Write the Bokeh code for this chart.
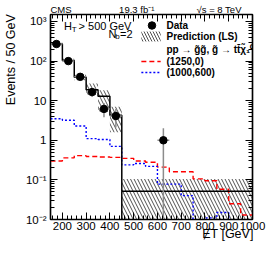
import math
from bokeh.plotting import figure
from bokeh.models import (Range1d, LinearAxis, LogAxis, FixedTicker,
                          CustomJSTickFormatter, Label)
from bokeh.embed import file_html
from bokeh.resources import INLINE

# ---------------- data ----------------
bin_edges = [150, 200, 250, 300, 350, 400, 450, 500, 550, 600, 650, 700,
             750, 800, 850, 900, 950, 1000]
pred_edges = [150, 200, 250, 300, 350, 400, 450, 1000]
pred_vals = [270, 104, 39, 19, 13, 4.3, 0.052]
pred_lo = [245, 93, 33, 14, 5.2, 1.6, 0.001]
pred_hi = [295, 115, 45, 27, 18.4, 7.0, 0.106]
sig_1250_0 = [0.30, 0.36, 0.41, 0.39, 0.38, 0.37, 0.35, 0.30, 0.28, 0.21,
              0.16, 0.16, 0.106, 0.095, 0.058, 0.025, 0.013]
sig_1000_600 = [3.5, 3.2, 2.3, 1.1, 1.05, 0.7, 0.24, 0.26, 0.22, 0.078,
                0.078, 0.04, 0.009, 0.011, 0.015, 0.001, 0.001]
data_x = [175, 225, 275, 325, 375, 425, 625]
data_y = [270, 100, 40, 16.5, 6.2, 4.1, 1.0]
data_lo = [254, 90, 33.5, 12.5, 3.8, 2.1, 0.001]
data_hi = [287, 110, 46.5, 20.7, 8.8, 6.2, 2.0]
BIN_W = 50
x_ticks = [200, 300, 400, 500, 600, 700, 800, 900, 1000]
y_ticks = [0.01, 0.1, 1, 10, 100, 1000]
y_labels = ["10\u207b\u00b2", "10\u207b\u00b9", "1", "10", "10\u00b2", "10\u00b3"]

X0, X1 = 150, 1000
Y0, Y1 = 0.01, 1500

# ---------------- layout (canvas pixels) ----------------
W, H = 266, 253
FL, FR, FT, FB = 43, 252, 14, 219
FONT = "Liberation Sans"
NB = "\u00a0"


def dx(px):
    return X0 + (px - FL) / (FR - FL) * (X1 - X0)


def dy(py):
    l0, l1 = math.log10(Y0), math.log10(Y1)
    return 10 ** (l0 + (FB - py) / (FB - FT) * (l1 - l0))


p = figure(width=W, height=H, x_range=Range1d(X0, X1), y_range=Range1d(Y0, Y1),
           y_axis_type="log", output_backend="svg", toolbar_location=None,
           min_border_left=FL, min_border_right=W - FR, min_border_top=FT,
           min_border_bottom=H - FB)
p.grid.visible = False
p.outline_line_color = "black"
p.outline_line_width = 1.5
p.background_fill_color = "white"
p.border_fill_color = "white"

# header as the plot title
p.title.text = "CMS" + NB * 18 + "19.3 fb\u207b\u00b9" + NB * 16 + "\u221as = 8 TeV"
p.title.align = "left"
p.title.standoff = 0
p.title.offset = 0
p.title.text_font = FONT
p.title.text_font_size = "9.5px"
p.title.text_font_style = "normal"
p.title.text_color = "black"

x_minor = [v for v in range(160, 1000, 20) if v % 100 != 0]
y_minor = [k * 10 ** e for e in range(-2, 4) for k in range(2, 10)]


def style_axis(ax):
    ax.major_tick_in = 7
    ax.major_tick_out = 0
    ax.minor_tick_in = 4
    ax.minor_tick_out = 0
    ax.axis_line_color = "black"
    ax.axis_line_width = 1.2
    ax.major_tick_line_width = 1
    ax.minor_tick_line_width = 1
    ax.major_label_text_font = FONT
    ax.major_label_text_color = "black"
    ax.major_label_text_font_size = "11.5px"
    ax.axis_label_text_font = FONT
    ax.axis_label_text_font_style = "normal"
    ax.axis_label_text_color = "black"
    ax.axis_label_text_font_size = "12.5px"


xa = p.xaxis[0]
xa.ticker = FixedTicker(ticks=x_ticks, minor_ticks=x_minor)
style_axis(xa)
xa.major_label_standoff = 2
xa.axis_label_standoff = -6
# centred label, padded in front so that the visible text ends at the right edge
xa.axis_label = NB * 44 + "\u0246T [GeV]"

ya = p.yaxis[0]
ya.ticker = FixedTicker(ticks=y_ticks, minor_ticks=y_minor)
ya.formatter = CustomJSTickFormatter(args=dict(labs=y_labels),
                                     code="return labs[Math.round(Math.log10(tick)) + 2];")
style_axis(ya)
ya.major_label_standoff = 4
ya.axis_label_standoff = 5
ya.axis_label = NB * 33 + "Events / 50 GeV"

blank = CustomJSTickFormatter(code="return '';")
top_ax = LinearAxis(ticker=FixedTicker(ticks=x_ticks, minor_ticks=x_minor), formatter=blank)
style_axis(top_ax)
top_ax.major_label_text_font_size = "1px"
top_ax.major_label_standoff = 0
p.add_layout(top_ax, "above")
right_ax = LogAxis(ticker=FixedTicker(ticks=y_ticks, minor_ticks=y_minor), formatter=blank)
style_axis(right_ax)
right_ax.major_label_text_font_size = "1px"
right_ax.major_label_standoff = 0
p.add_layout(right_ax, "right")


def step_xy(edges, vals):
    xs, ys = [], []
    for i, v in enumerate(vals):
        xs += [edges[i], edges[i + 1]]
        ys += [v, v]
    return xs, ys


# prediction band (hatched)
p.quad(left=pred_edges[:-1], right=pred_edges[1:], bottom=pred_lo, top=pred_hi,
       fill_color=None, line_color=None, hatch_pattern="\\", hatch_color="#222222",
       hatch_scale=7, hatch_weight=0.8)

# signal curves
sx, sy = step_xy(bin_edges, sig_1250_0)
p.line(sx, sy, color="#ff0000", line_width=1.4, line_dash="5 3")
sx, sy = step_xy(bin_edges, sig_1000_600)
p.line(sx, sy, color="#0000ff", line_width=1.4, line_dash="2 2")

# prediction line
px_, py_ = step_xy(pred_edges, pred_vals)
p.line(px_, py_, color="black", line_width=1.5)
p.segment(x0=[pred_edges[-2]], y0=[pred_lo[-1]], x1=[pred_edges[-2]], y1=[pred_vals[-1]],
          color="black", line_width=1.5)

# data
p.segment(x0=data_x, y0=data_lo, x1=data_x, y1=data_hi, color="#8c8c8c", line_width=1.5)
p.segment(x0=[x - BIN_W / 2 for x in data_x], y0=data_y,
          x1=[x + BIN_W / 2 for x in data_x], y1=data_y, color="#8c8c8c", line_width=1.5)
p.scatter(data_x, data_y, size=7.5, color="black")


def lab(text, px, py, size, align="left", baseline="middle", style="normal"):
    p.add_layout(Label(x=dx(px), y=dy(py), text=text, text_font=FONT,
                       text_font_size=f"{size}px", text_align=align,
                       text_baseline=baseline, text_font_style=style,
                       text_color="black"))


# in-plot texts
lab("H", 57, 25.5, 11)
lab("T", 65, 28.5, 8)
lab("> 500 GeV", 72, 25.5, 11)
lab("N", 103, 33.5, 11)
lab("b", 110, 36, 8)
lab("=2", 115, 33.5, 11)

# legend
p.scatter([dx(148)], [dy(25)], size=7.5, color="black")
lab("Data", 163, 25, 10, style="bold")
p.quad(left=[dx(137)], right=[dx(157)], bottom=[dy(41)], top=[dy(31)],
       fill_color=None, line_color=None, hatch_pattern="\\", hatch_color="#222222",
       hatch_scale=6, hatch_weight=0.8)
lab("Prediction (LS)", 163, 36, 10, style="bold")
lab("pp \u2192 g\u0303g\u0303, g\u0303 \u2192 tt\u0304\u03c7\u0303\u2081\u2070", 163, 49, 10, style="bold")
p.line([dx(137), dx(157)], [dy(61), dy(61)], color="#ff0000", line_width=1.4, line_dash="5 3")
lab("(1250,0)", 163, 61, 10, style="bold")
p.line([dx(137), dx(157)], [dy(72), dy(72)], color="#0000ff", line_width=1.4, line_dash="2 2")
lab("(1000,600)", 163, 72, 10, style="bold")

open("out.html", "w").write(file_html(p, INLINE))
